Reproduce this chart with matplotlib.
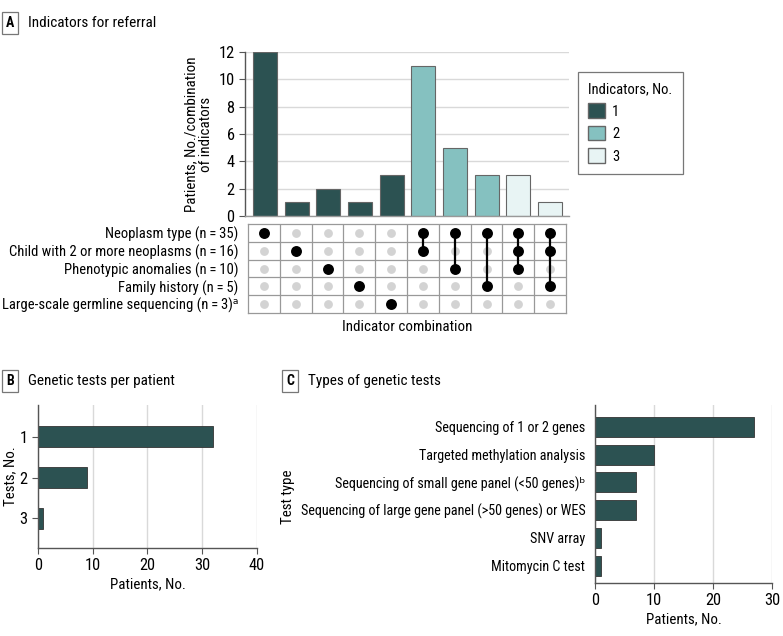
import matplotlib
matplotlib.use("Agg")
import matplotlib.pyplot as plt
from matplotlib.patches import Patch

plt.rcParams['font.family'] = ['Roboto Condensed', 'DejaVu Sans']
plt.rcParams['font.size'] = 10.5

# panel A data
indicators = [
    "Neoplasm type (n\u2009=\u200935)",
    "Child with 2 or more neoplasms (n\u2009=\u200916)",
    "Phenotypic anomalies (n\u2009=\u200910)",
    "Family history (n\u2009=\u20095)",
    "Large-scale germline sequencing (n\u2009=\u20093)\u1d43",
]
combos = [[0], [1], [2], [3], [4], [0, 1], [0, 2], [0, 3], [0, 1, 2], [0, 1, 3]]
combo_counts = [12, 1, 2, 1, 3, 11, 5, 3, 3, 1]

# panel B data
tests_per_patient = ["1", "2", "3"]
tests_counts = [32, 9, 1]

# panel C data
test_types = [
    "Sequencing of 1 or 2 genes",
    "Targeted methylation analysis",
    "Sequencing of small gene panel (<50 genes)\u1d47",
    "Sequencing of large gene panel (>50 genes) or WES",
    "SNV array",
    "Mitomycin C test",
]
test_type_counts = [27, 10, 7, 7, 1, 1]

colors = {1: '#2c5252', 2: '#85c1c0', 3: '#e8f4f4'}
dark = colors[1]
grid_c = '#d9d9d9'
spine_c = '#555555'
lab_fs = 10.5
axis_fs = 10.8
num_fs = 11.8

W, H = 783, 636
fig = plt.figure(figsize=(W / 100, H / 100), dpi=100)


def rect(x0, y0, x1, y1):
    # pixel box -> figure fraction
    return [x0 / W, 1 - y1 / H, (x1 - x0) / W, (y1 - y0) / H]


def header(x, y, letter, title):
    fig.text(x / W, 1 - y / H, letter, fontsize=10, fontweight='bold',
             va='center', ha='left',
             bbox=dict(boxstyle='square,pad=0.3', fc='white', ec='#777777', lw=0.9))
    fig.text((x + 22) / W, 1 - y / H, title, fontsize=11, va='center', ha='left')


def style_axes(ax):
    for s in ['top', 'right']:
        ax.spines[s].set_visible(False)
    for s in ['left', 'bottom']:
        ax.spines[s].set_color(spine_c)
        ax.spines[s].set_linewidth(1.0)
    ax.tick_params(colors=spine_c, labelcolor='black', length=4, width=0.8)
    ax.set_axisbelow(True)


# ---- A: bars
header(6, 23, "A", "Indicators for referral")
axA = fig.add_axes(rect(245, 52, 569, 216))
xs = list(range(len(combo_counts)))
bar_cols = [colors[len(c)] for c in combos]
axA.bar(xs, combo_counts, width=0.76, color=bar_cols, edgecolor='#666666', linewidth=0.8)
axA.set_xlim(-0.63, 9.6)
axA.set_ylim(0, 12)
axA.set_yticks(range(0, 13, 2))
axA.set_xticks([])
axA.yaxis.grid(True, color=grid_c, lw=1)
style_axes(axA)
axA.spines['bottom'].set_color('#999999')
axA.tick_params(axis='y', labelsize=num_fs)
axA.set_ylabel("Patients, No./combination\nof indicators", fontsize=axis_fs, labelpad=4,
               linespacing=1.05)

handles = [Patch(facecolor=colors[k], edgecolor='#666666', label=str(k)) for k in [1, 2, 3]]
leg = fig.legend(handles=handles, title="Indicators, No.", loc='upper left',
                 bbox_to_anchor=(578 / W, 1 - 72 / H), borderaxespad=0, fancybox=False,
                 edgecolor='#777777', framealpha=1, fontsize=lab_fs, title_fontsize=lab_fs,
                 alignment='left', handlelength=1.15, handleheight=1.15,
                 borderpad=0.7, labelspacing=0.5, handletextpad=0.5)
leg.get_frame().set_linewidth(0.9)

# ---- A: matrix
axM = fig.add_axes(rect(248, 224, 566, 313))
axM.set_xlim(-0.5, 9.5)
axM.set_ylim(4.5, -0.5)
for v in [i + 0.5 for i in range(9)]:
    axM.axvline(v, color='#999999', lw=0.9)
for v in [i + 0.5 for i in range(4)]:
    axM.axhline(v, color='#999999', lw=0.9)
for s in axM.spines.values():
    s.set_color('#999999')
    s.set_linewidth(0.9)
for ci, c in enumerate(combos):
    off = [r for r in range(len(indicators)) if r not in c]
    axM.scatter([ci] * len(off), off, s=40, color='#d3d3d3', zorder=3, linewidths=0)
    if len(c) > 1:
        axM.plot([ci, ci], [min(c), max(c)], color='black', lw=1.6, zorder=3)
    axM.scatter([ci] * len(c), c, s=62, color='black', zorder=4, linewidths=0)
axM.set_xticks([])
axM.set_yticks(range(len(indicators)))
axM.set_yticklabels(indicators, fontsize=lab_fs)
axM.tick_params(axis='y', length=0, pad=7)
axM.set_xlabel("Indicator combination", fontsize=axis_fs, labelpad=5)

# ---- B
header(6, 381, "B", "Genetic tests per patient")
axB = fig.add_axes(rect(38, 405, 257, 548))
axB.barh(range(len(tests_counts)), tests_counts, height=0.51, color=dark,
         edgecolor='#333333', linewidth=0.6)
axB.set_xlim(0, 40)
axB.set_ylim(2.72, -0.77)
axB.set_xticks(range(0, 41, 10))
axB.set_yticks(range(len(tests_per_patient)))
axB.set_yticklabels(tests_per_patient)
axB.xaxis.grid(True, color=grid_c, lw=1)
style_axes(axB)
axB.tick_params(labelsize=num_fs)
axB.set_xlabel("Patients, No.", fontsize=axis_fs, labelpad=3)
fig.text(10 / W, 1 - 476 / H, "Tests, No.", rotation=90, fontsize=axis_fs,
         ha='center', va='center')

# ---- C
header(286, 381, "C", "Types of genetic tests")
axC = fig.add_axes(rect(595, 405, 772, 583))
axC.barh(range(len(test_type_counts)), test_type_counts, height=0.72, color=dark,
         edgecolor='#333333', linewidth=0.6)
axC.set_xlim(0, 30)
axC.set_ylim(5.63, -0.79)
axC.set_xticks(range(0, 31, 10))
axC.set_yticks(range(len(test_types)))
axC.set_yticklabels(test_types, fontsize=10.2)
axC.xaxis.grid(True, color=grid_c, lw=1)
style_axes(axC)
axC.tick_params(axis='y', length=0, pad=7)
axC.tick_params(axis='x', labelsize=num_fs)
axC.set_xlabel("Patients, No.", fontsize=axis_fs, labelpad=3)
fig.text(288 / W, 1 - 497 / H, "Test type", rotation=90, fontsize=axis_fs,
         ha='center', va='center')

fig.savefig("out.png", dpi=100)
